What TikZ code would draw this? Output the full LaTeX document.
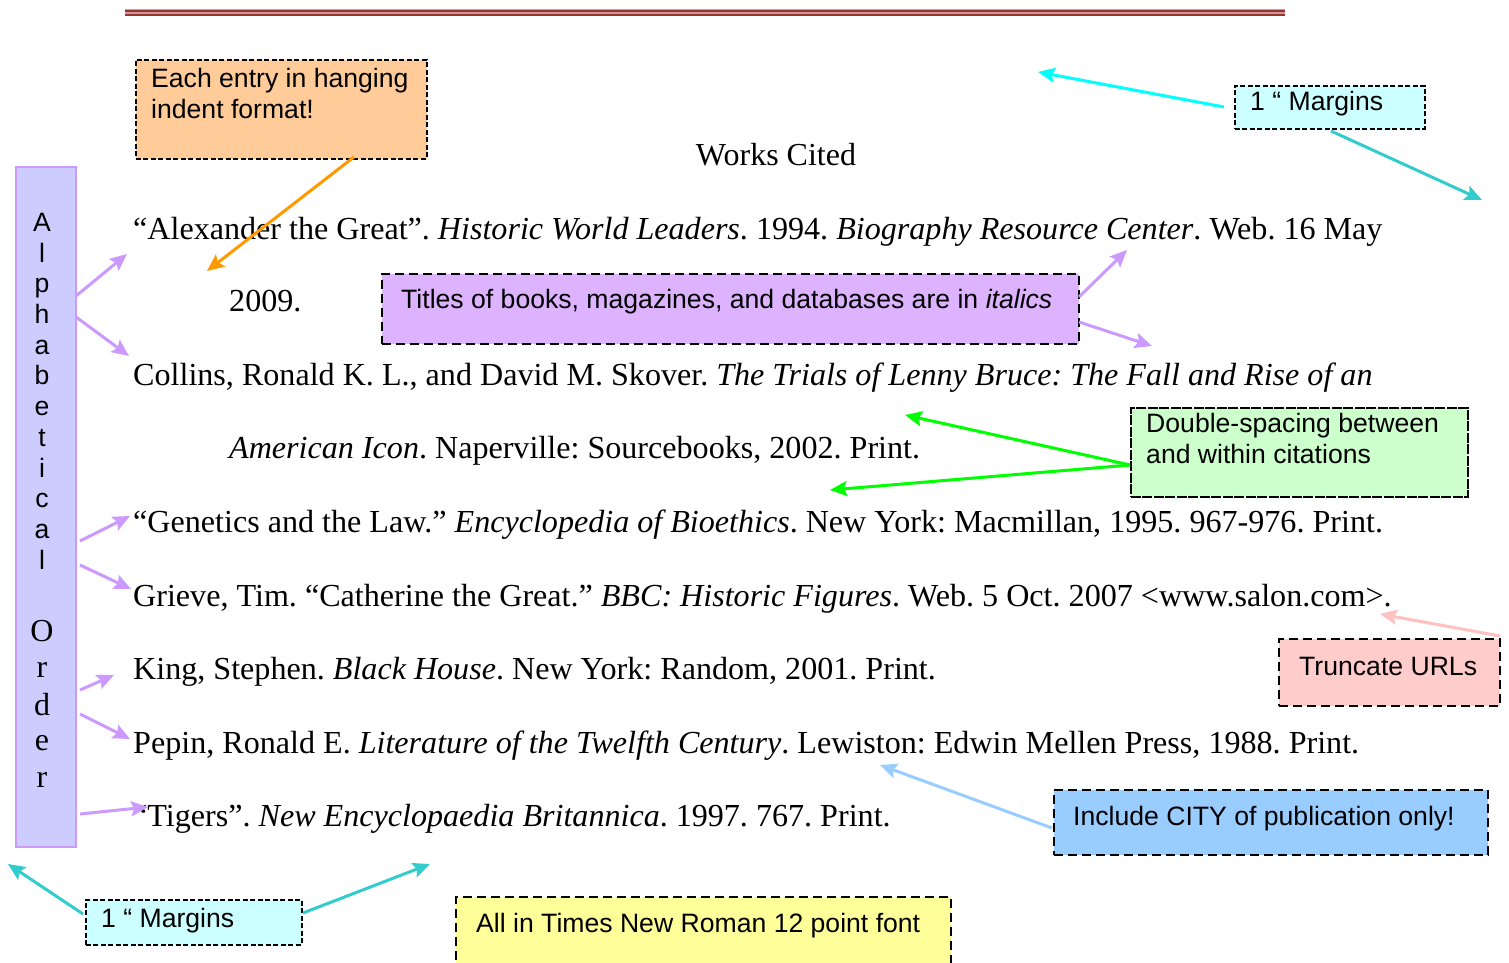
\documentclass[tikz,border=0pt]{standalone}
\usepackage{fontspec}
\setmainfont{Liberation Serif}
\setsansfont{Liberation Sans}
\usetikzlibrary{arrows.meta}
\frenchspacing
\definecolor{rulered}{HTML}{943634}
\definecolor{rulepink}{HTML}{D99594}
\definecolor{orangefill}{HTML}{FFCC99}
\definecolor{cyanfill}{HTML}{CCFFFF}
\definecolor{purplefill}{HTML}{DDB3FF}
\definecolor{greenfill}{HTML}{CCFFCC}
\definecolor{pinkfill}{HTML}{FFCCCC}
\definecolor{bluefill}{HTML}{99CCFF}
\definecolor{yellowfill}{HTML}{FFFF99}
\definecolor{alphafill}{HTML}{CCCCFF}
\definecolor{lav}{HTML}{CC99FF}
\definecolor{orangearr}{HTML}{FF9900}
\definecolor{cyanarr}{HTML}{00FFFF}
\definecolor{tealarr}{HTML}{33CCCC}
\definecolor{greenarr}{HTML}{00FF00}
\definecolor{pinkarr}{HTML}{FFC0C0}
\definecolor{bluearr}{HTML}{99CCFF}
\begin{document}
\begin{tikzpicture}[x=1pt,y=-1pt,
  cite/.style={anchor=base west, inner sep=0pt, font=\fontsize{32.1}{38}\selectfont\frenchspacing},
  note/.style={anchor=base west, inner sep=0pt, font=\sffamily\fontsize{26.6}{31}\selectfont},
  vlet/.style={anchor=base, inner sep=0pt, font=\sffamily\fontsize{26.6}{31}\selectfont},
  vlets/.style={anchor=base, inner sep=0pt, font=\fontsize{32}{38}\selectfont},
  boxa/.style={draw=black, line width=1.8pt, dash pattern=on 5pt off 2.5pt, anchor=north west, inner sep=0pt},
  boxb/.style={draw=black, line width=1.8pt, dash pattern=on 9pt off 5pt, anchor=north west, inner sep=0pt},
  arr/.style={line width=3pt, -{Stealth[length=17pt,width=15pt,inset=3pt]}},
]
\useasboundingbox (0,0) rectangle (1509,963);

% top rule
\fill[rulepink] (125,9.5) rectangle (1285,16.5);
\draw[rulered, line width=2pt] (125,11) -- (1285,11);
\draw[rulered, line width=2pt] (125,14.8) -- (1285,14.8);

% title and citations
\node[anchor=base, inner sep=0pt, font=\fontsize{32}{38}\selectfont] (title) at (776,165) {Works Cited};
\node[cite] (c1) at (133,239.5) {“Alexander the Great”. \textit{Historic World Leaders}. 1994. \textit{Biography Resource Center}. Web. 16 May};
\node[cite] (c1b) at (229,311.5) {2009.};
\node[cite] (c2) at (133,385.5) {Collins, Ronald K. L., and David M. Skover. \textit{The Trials of Lenny Bruce: The Fall and Rise of an}};
\node[cite] (c2b) at (229,458.5) {\textit{American Icon}. Naperville: Sourcebooks, 2002. Print.};
\node[cite] (c3) at (133,532.5) {“Genetics and the Law.” \textit{Encyclopedia of Bioethics}. New York: Macmillan, 1995. 967-976. Print.};
\node[cite] (c4) at (133,606.5) {Grieve, Tim. “Catherine the Great.” \textit{BBC: Historic Figures}. Web. 5 Oct. 2007 <www.salon.com>.};
\node[cite] (c5) at (133,679.5) {King, Stephen. \textit{Black House}. New York: Random, 2001. Print.};
\node[cite] (c6) at (133,753.5) {Pepin, Ronald E. \textit{Literature of the Twelfth Century}. Lewiston: Edwin Mellen Press, 1988. Print.};
\node[cite] (c7) at (133,826.5) {“Tigers”. \textit{New Encyclopaedia Britannica}. 1997. 767. Print.};

% boxes
\node[boxa, fill=orangefill, minimum width=291, minimum height=99] (orange) at (135,59) {};
\node[note] (orangeT1) at (151,88) {Each entry in hanging};
\node[note] (orangeT2) at (151,119) {indent format!};

\node[boxa, fill=cyanfill, minimum width=190, minimum height=43] (cyanA) at (1234,85) {};
\node[note] (cyanAT) at (1250,110.5) {1 “ Margins};

\node[boxb, fill=purplefill, minimum width=697, minimum height=70] (purple) at (381,273) {};
\node[note] (purpleT) at (401,308.5) {Titles of books, magazines, and databases are in \textit{italics}};

\node[draw=black, line width=1.8pt, dash pattern=on 10pt off 1.5pt, anchor=north west, inner sep=0pt, fill=greenfill, minimum width=337, minimum height=89] (green) at (1130,407) {};
\node[note] (greenT1) at (1146,432.5) {Double-spacing between};
\node[note] (greenT2) at (1146,463.5) {and within citations};

\node[boxb, fill=pinkfill, minimum width=221, minimum height=67] (pink) at (1278,638) {};
\node[note] (pinkT) at (1299,675.5) {Truncate URLs};

\node[boxb, fill=bluefill, minimum width=434, minimum height=65] (blue) at (1053,789) {};
\node[note] (blueT) at (1073,825.5) {Include CITY of publication only!};

\node[boxa, fill=cyanfill, minimum width=216, minimum height=45] (cyanB) at (85,899) {};
\node[note] (cyanBT) at (101,927.5) {1 “ Margins};

\node[boxb, fill=yellowfill, minimum width=495, minimum height=90] (yellow) at (455,896) {};
\node[note] (yellowT) at (476,932.5) {All in Times New Roman 12 point font};

% alphabetical box
\node[draw=lav, line width=2pt, fill=alphafill, anchor=north west, inner sep=0pt, minimum width=60, minimum height=680] (alpha) at (15,166) {};
\foreach \ch/\yy [count=\i] in {A/231.5,l/262,p/292.5,h/323,a/354,b/384.5,e/415,t/446,i/477,c/507,a/538,l/569.5}{
  \node[vlet] (al\i) at (42,\yy) {\ch};
}
\foreach \ch/\yy [count=\i] in {O/641.5,r/677.5,d/715,e/750.5,r/787}{
  \node[vlets] (or\i) at (42,\yy) {\ch};
}

% coordinates for connector ends
\coordinate (la1s) at (76,296);  \coordinate (la1e) at (127,254);
\coordinate (la2s) at (76,317);  \coordinate (la2e) at (129,356);
\coordinate (la3s) at (80,541);  \coordinate (la3e) at (130,516);
\coordinate (la4s) at (80,565);  \coordinate (la4e) at (131,589);
\coordinate (la5s) at (80,690);  \coordinate (la5e) at (114,675);
\coordinate (la6s) at (80,714);  \coordinate (la6e) at (130,739);
\coordinate (la7s) at (80,814);  \coordinate (la7e) at (148,807);
\coordinate (pu1s) at (1079,297); \coordinate (pu1e) at (1127,250);
\coordinate (pu2s) at (1079,322); \coordinate (pu2e) at (1152,346);
\coordinate (ors) at (354,157);  \coordinate (ore) at (207,271);
\coordinate (cy1s) at (1224,107); \coordinate (cy1e) at (1038,72);
\coordinate (cy2s) at (1331,131); \coordinate (cy2e) at (1482,200);
\coordinate (cy3s) at (83,914);  \coordinate (cy3e) at (8,864);
\coordinate (cy4s) at (303,913); \coordinate (cy4e) at (430,864);
\coordinate (grs) at (1130,465); \coordinate (gr1e) at (905,415); \coordinate (gr2e) at (830,490);
\coordinate (pks) at (1500,636); \coordinate (pke) at (1380,614);
\coordinate (bls) at (1052,828); \coordinate (ble) at (880,765);

\foreach \n in {1,...,7}{ \draw[arr, lav] (la\n s) -- (la\n e); }
\draw[arr, lav] (pu1s) -- (pu1e);
\draw[arr, lav] (pu2s) -- (pu2e);
\draw[arr, orangearr] (ors) -- (ore);
\draw[arr, cyanarr] (cy1s) -- (cy1e);
\draw[arr, tealarr] (cy2s) -- (cy2e);
\draw[arr, tealarr] (cy3s) -- (cy3e);
\draw[arr, tealarr] (cy4s) -- (cy4e);
\draw[arr, greenarr] (grs) -- (gr1e);
\draw[arr, greenarr] (grs) -- (gr2e);
\draw[arr, pinkarr] (pks) -- (pke);
\draw[arr, bluearr] (bls) -- (ble);
\end{tikzpicture}
\end{document}
